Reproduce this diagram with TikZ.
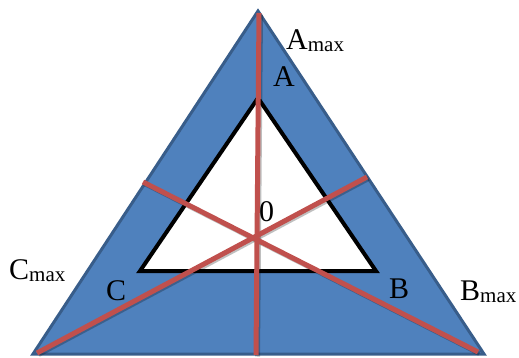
\documentclass[tikz,border=0pt]{standalone}
\usepackage{fontspec}
\setmainfont{Liberation Serif}
\usetikzlibrary{calc}
\definecolor{fillblue}{HTML}{4F81BD}
\definecolor{edgeblue}{HTML}{385D8A}
\definecolor{axisred}{HTML}{C0504D}
\newcommand{\bigtxt}{\fontsize{30}{36}\selectfont}
\newcommand{\maxtxt}[1]{{\bigtxt #1}\raisebox{-2pt}{\fontsize{21}{24}\selectfont max}}

\begin{document}
\begin{tikzpicture}[x=1pt, y=-1pt,
  axisline/.style={color=axisred, line width=5pt},
  axisshadow/.style={color=black, opacity=0.25, line width=5pt},
  vlabel/.style={anchor=base west, inner sep=0pt, font=\bigtxt}]
\useasboundingbox (0,0) rectangle (519,358);
% corners of the two triangles
\coordinate (Aout) at (258,11);
\coordinate (Bout) at (484,354);
\coordinate (Cout) at (33,354);
\coordinate (Ain) at (258,98);
\coordinate (Bin) at (376,271);
\coordinate (Cin) at (140,271);
% ends of the three axes
\coordinate (a1) at (259,13);
\coordinate (a2) at (256,355);
\coordinate (b1) at (143,182);
\coordinate (b2) at (478,352);
\coordinate (c1) at (367,177);
\coordinate (c2) at (37,353);
\filldraw[fill=fillblue, draw=edgeblue, line width=3pt] (Aout) -- (Bout) -- (Cout) -- cycle;
\filldraw[fill=white, draw=black, line width=4pt] (Ain) -- (Bin) -- (Cin) -- cycle;
\foreach \p/\q in {a1/a2, b1/b2, c1/c2} {
\draw[axisshadow] ($(\p)+(1.5,1.5)$) -- ($(\q)+(1.5,1.5)$);
}
\foreach \p/\q in {a1/a2, b1/b2, c1/c2} {
\draw[axisline] (\p) -- (\q);
}
\node[vlabel] (amax) at (286,50) {\maxtxt{A}};
\node[vlabel] (bmax) at (460,300) {\maxtxt{B}};
\node[vlabel] (cmax) at (9,279) {\maxtxt{C}};
\node[vlabel] (alab) at (273,87) {A};
\node[vlabel] (blab) at (389,298) {B};
\node[vlabel] (clab) at (106,300) {C};
\node[vlabel] (zero) at (259,221) {0};
\end{tikzpicture}
\end{document}
